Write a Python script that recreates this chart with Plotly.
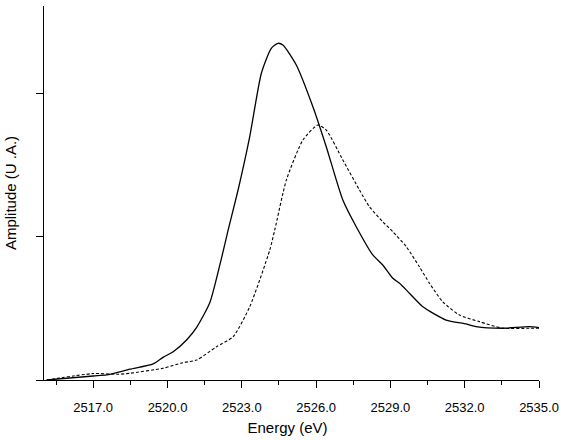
import plotly.graph_objects as go

# Spectrum A (solid line)
energy_a = [2515.12, 2517.0, 2517.54, 2518.48, 2519.42, 2519.82, 2520.23, 2520.77,
            2521.17, 2521.71, 2522.18, 2522.44, 2522.85, 2523.32, 2523.79, 2524.19,
            2524.46, 2524.66, 2525.20, 2525.87, 2526.41, 2527.08, 2527.62, 2528.29,
            2528.69, 2529.10, 2529.37, 2529.77, 2530.31, 2531.25, 2532.06, 2532.46,
            2533.53, 2534.61, 2535.0]
amp_a = [0.0, 0.028, 0.035, 0.075, 0.112, 0.158, 0.197, 0.279,
         0.365, 0.54, 0.85, 1.04, 1.325, 1.697, 2.139, 2.313,
         2.348, 2.336, 2.197, 1.906, 1.627, 1.255, 1.069, 0.872,
         0.802, 0.709, 0.674, 0.605, 0.511, 0.418, 0.391, 0.372,
         0.361, 0.372, 0.365]

# Spectrum B (dashed line)
energy_b = [2515.12, 2517.0, 2518.0, 2518.48, 2519.82, 2520.63, 2521.17, 2521.98,
            2522.65, 2523.32, 2524.13, 2524.33, 2524.80, 2525.47, 2526.07, 2526.41,
            2527.08, 2527.75, 2528.15, 2528.69, 2529.10, 2529.64, 2530.17, 2530.58,
            2531.11, 2531.79, 2532.59, 2533.53, 2534.61, 2535.0]
amp_b = [0.0, 0.045, 0.04, 0.047, 0.082, 0.121, 0.139, 0.232,
         0.302, 0.511, 0.907, 1.046, 1.395, 1.674, 1.778, 1.743,
         1.534, 1.325, 1.209, 1.104, 1.034, 0.930, 0.790, 0.674,
         0.546, 0.453, 0.407, 0.361, 0.361, 0.361]

x_ticks = [2517.0, 2520.0, 2523.0, 2526.0, 2529.0, 2532.0, 2535.0]
x_labels = ["2517.0", "2520.0", "2523.0", "2526.0", "2529.0", "2532.0", "2535.0"]
y_ticks = [0, 1, 2]

fig = go.Figure()
fig.add_trace(go.Scatter(x=energy_a, y=amp_a, mode="lines",
                         line=dict(color="black", width=1.3, shape="spline",
                                   smoothing=0.6),
                         showlegend=False))
fig.add_trace(go.Scatter(x=energy_b, y=amp_b, mode="lines",
                         line=dict(color="black", width=1.1, dash="3px,2px",
                                   shape="spline", smoothing=0.6),
                         showlegend=False))

font = "Liberation Sans, Arial, sans-serif"
fig.update_layout(
    width=566, height=440,
    margin=dict(l=36, r=27, t=6, b=60),
    paper_bgcolor="white", plot_bgcolor="white",
    font=dict(family=font, color="black", size=13),
    xaxis=dict(
        range=[2514.69, 2535.0],
        tickvals=x_ticks, ticktext=x_labels,
        ticks="outside", ticklen=7, tickwidth=1.3, tickcolor="black",
        minor=dict(dtick=1.5, tick0=2515.5, ticks="outside", ticklen=4,
                   tickwidth=1.2, tickcolor="black", showgrid=False),
        showline=True, linecolor="black", linewidth=1.3,
        showgrid=False, zeroline=False,
        tickfont=dict(size=13), ticklabelstandoff=8,
        title=dict(text="Energy (eV)", font=dict(size=15), standoff=8),
    ),
    yaxis=dict(
        range=[0, 2.608],
        anchor="free", position=0.0145,
        tickvals=y_ticks, showticklabels=False,
        ticks="outside", ticklen=7, tickwidth=1.3, tickcolor="black",
        showline=True, linecolor="black", linewidth=1.3,
        showgrid=False, zeroline=False,
        title=dict(text="Amplitude (U .A.)", font=dict(size=15), standoff=14),
    ),
)

fig.write_html("out.html")
